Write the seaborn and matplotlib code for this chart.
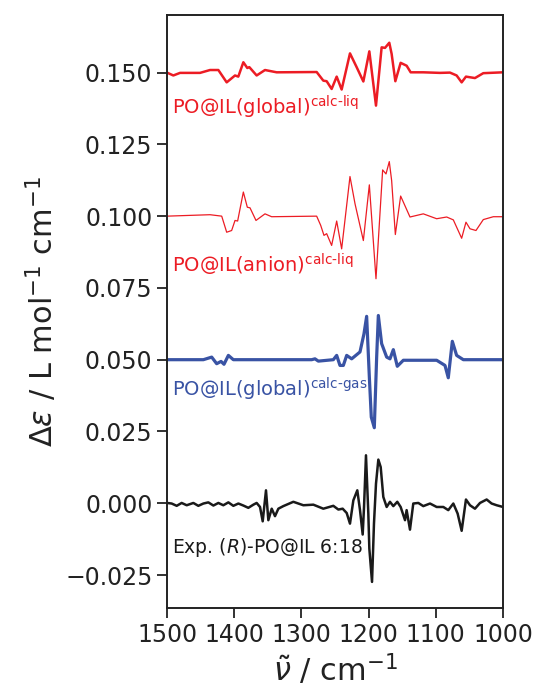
"""VCD spectra of PO@IL: experiment vs. calculated (offset traces)."""

import numpy as np
import pandas as pd
import matplotlib

matplotlib.use("Agg")
import matplotlib.pyplot as plt
import seaborn as sns

# --- data (wavenumber / cm-1, delta epsilon without offset) ---
wn_global_liq = [1500, 1490.6, 1480.6, 1450.9, 1436.0, 1423.6, 1411.2, 1398.8, 1393.9,
                 1386.4, 1380.5, 1377.5, 1366.6, 1354.2, 1336.8, 1277.3, 1267.4, 1262.4,
                 1255.0, 1247.5, 1240.1, 1227.7, 1217.8, 1207.8, 1198.9, 1189.0, 1180.6,
                 1175.6, 1169.2, 1165.7, 1160.2, 1152.3, 1143.4, 1137.4, 1118.6, 1093.8,
                 1078.9, 1069.0, 1061.5, 1055.1, 1041.7, 1029.3, 1000]
de_global_liq = [0.0, -0.0010, -0.0001, -0.0001, 0.0009, 0.0009, -0.0034, -0.0010, -0.0014,
                 0.0036, 0.0016, 0.0019, -0.0010, 0.0009, 0.0001, 0.0002, -0.0028, -0.0030,
                 -0.0057, -0.0014, -0.0059, 0.0067, 0.0019, -0.0031, 0.0074, -0.0115, 0.0088,
                 0.0086, 0.0104, 0.0065, -0.0030, 0.0034, 0.0024, 0.0001, 0.0001, -0.0001,
                 0.0, -0.0010, -0.0034, -0.0014, -0.0019, -0.0002, 0.0001]

wn_anion_liq = [1500, 1436.0, 1418.6, 1411.2, 1403.8, 1398.8, 1394.9, 1386.4, 1380.5,
                1376.5, 1367.6, 1354.2, 1344.3, 1277.3, 1271.3, 1266.4, 1262.4, 1255.0,
                1247.5, 1240.1, 1227.7, 1220.2, 1207.8, 1198.9, 1189.0, 1179.1, 1174.1,
                1169.2, 1165.7, 1160.2, 1152.3, 1138.4, 1118.6, 1098.7, 1083.8, 1073.9,
                1061.5, 1055.1, 1049.1, 1040.2, 1029.3, 1014.4, 1000]
de_anion_liq = [0.0, 0.0005, 0.0, -0.0056, -0.0050, -0.0015, -0.0017, 0.0084, 0.0031,
                0.0029, -0.0015, 0.0008, -0.0002, 0.0, -0.0032, -0.0067, -0.0061, -0.0102,
                -0.0017, -0.0114, 0.0138, 0.0043, -0.0085, 0.0109, -0.0218, 0.0161, 0.0147,
                0.0190, 0.0124, -0.0064, 0.0070, -0.0003, 0.0008, -0.0009, -0.0003, -0.0013,
                -0.0077, -0.0021, -0.0044, -0.0050, -0.0012, -0.0002, -0.0002]

wn_global_gas = [1500, 1445.9, 1433.5, 1426.1, 1419.6, 1415.2, 1408.7, 1401.3, 1284.7,
                 1279.8, 1274.8, 1252.5, 1247.5, 1242.6, 1237.6, 1232.6, 1225.2, 1212.8,
                 1206.9, 1202.9, 1198.9, 1196.0, 1191.5, 1188.0, 1185.5, 1180.6, 1173.1,
                 1168.2, 1163.2, 1157.3, 1148.3, 1098.7, 1086.3, 1081.4, 1075.4, 1069.0,
                 1059.0, 1000]
de_global_gas = [0.0, 0.0, 0.0009, -0.0014, -0.0006, -0.0016, 0.0015, 0.0, 0.0,
                 0.0003, -0.0005, 0.0, 0.0015, -0.0020, -0.0020, 0.0015, 0.0003, 0.0027,
                 0.0090, 0.0151, -0.0060, -0.0200, -0.0237, 0.0009, 0.0154, 0.0056, 0.0009,
                 0.0003, 0.0035, -0.0023, -0.0002, -0.0002, -0.0020, -0.0063, 0.0064, 0.0015,
                 0.0, 0.0]

wn_exp = [1500, 1493.1, 1485.6, 1478.2, 1470.7, 1460.8, 1453.4, 1445.9, 1438.5, 1431.0,
          1423.6, 1416.2, 1408.7, 1401.3, 1393.8, 1386.4, 1379.0, 1371.5, 1366.6, 1361.6,
          1357.6, 1352.7, 1349.2, 1344.2, 1339.3, 1334.3, 1326.9, 1312.0, 1297.1, 1282.2,
          1267.4, 1252.5, 1245.0, 1238.6, 1232.6, 1227.7, 1222.7, 1216.8, 1212.8, 1208.8,
          1206.8, 1203.9, 1200.4, 1198.9, 1194.9, 1192.0, 1189.0, 1185.5, 1182.0, 1178.1,
          1173.1, 1168.2, 1163.2, 1157.3, 1152.3, 1145.8, 1143.4, 1138.4, 1133.5, 1126.0,
          1118.6, 1108.6, 1098.7, 1088.8, 1081.4, 1073.9, 1067.5, 1061.5, 1055.1, 1049.1,
          1041.7, 1034.2, 1024.3, 1016.9, 1009.4, 1000]
de_exp = [0.0001, -0.0001, -0.0009, 0.0001, -0.0007, 0.0001, -0.0009, -0.0001, 0.0003, -0.0008,
          0.0001, -0.0007, 0.0003, -0.0009, -0.0001, -0.0008, -0.0016, -0.0005, 0.0001, -0.0013,
          -0.0063, 0.0045, -0.0059, -0.0019, -0.0045, -0.0019, -0.0010, 0.0005, -0.0007, -0.0005,
          -0.0019, -0.0009, -0.0022, -0.0019, -0.0034, -0.0071, 0.0010, 0.0045, -0.0024, -0.0109,
          -0.0013, 0.0167, -0.0036, -0.0158, -0.0274, -0.0071, 0.0068, 0.0152, 0.0126, 0.0022,
          -0.0013, 0.0005, -0.0010, 0.0005, -0.0013, -0.0059, -0.0024, -0.0092, -0.0001, 0.0001,
          -0.0010, -0.0001, -0.0013, -0.0013, -0.0024, -0.0001, -0.0036, -0.0096, 0.0013, -0.0007,
          -0.0019, 0.0001, 0.0013, -0.0001, -0.0007, -0.0013]

offsets = [0.15, 0.10, 0.05, 0.0]
labels = [
    r"PO@IL(global)$^{\text{calc-liq}}$",
    r"PO@IL(anion)$^{\text{calc-liq}}$",
    r"PO@IL(global)$^{\text{calc-gas}}$",
    r"Exp. ($R$)-PO@IL 6:18",
]
label_y = [0.1354, 0.0802, 0.0372, -0.0175]


def main():
    sns.set_theme(style="ticks", context="talk")
    plt.rcParams.update({
        "xtick.major.size": 7,
        "ytick.major.size": 7,
        "xtick.major.width": 1.3,
        "ytick.major.width": 1.3,
        "axes.linewidth": 1.4,
        "axes.edgecolor": "#222222",
        "xtick.color": "#222222",
        "ytick.color": "#222222",
        "text.color": "#222222",
        "axes.labelcolor": "#222222",
        "mathtext.fontset": "dejavusans",
    })

    traces = [
        (wn_global_liq, de_global_liq, "#ec1c24", 1.8),
        (wn_anion_liq, de_anion_liq, "#ec1c24", 0.9),
        (wn_global_gas, de_global_gas, "#3953a4", 2.3),
        (wn_exp, de_exp, "#1a1a1a", 1.8),
    ]

    fig, ax = plt.subplots(figsize=(5.36, 6.9), dpi=100)
    fig.subplots_adjust(left=0.3116, right=0.9384, top=0.978, bottom=0.1188)

    for (wn, de, color, lw), off, lab, ly in zip(traces, offsets, labels, label_y):
        df = pd.DataFrame({"wn": wn, "de": np.array(de) + off})
        sns.lineplot(data=df, x="wn", y="de", ax=ax, color=color, lw=lw,
                     estimator=None, sort=False)
        ax.text(1493, ly, lab, color=color, fontsize=14 if off > 0 else 13.5,
                va="baseline", ha="left")

    ax.set_xlim(1500, 1000)
    ax.set_ylim(-0.0365, 0.170)
    ax.set_xticks([1500, 1400, 1300, 1200, 1100, 1000])
    ax.set_yticks([-0.025, 0.0, 0.025, 0.05, 0.075, 0.1, 0.125, 0.15])
    ax.set_yticklabels(["\u22120.025", "0.000", "0.025", "0.050", "0.075",
                        "0.100", "0.125", "0.150"])
    ax.tick_params(labelsize=17)
    ax.set_xlabel(r"$\tilde{\nu}$ / cm$^{-1}$", fontsize=22, labelpad=4)
    ax.set_ylabel(r"$\Delta\varepsilon$ / L mol$^{-1}$ cm$^{-1}$", fontsize=22)

    fig.savefig("out.png", dpi=100)
    plt.close(fig)


if __name__ == "__main__":
    main()
